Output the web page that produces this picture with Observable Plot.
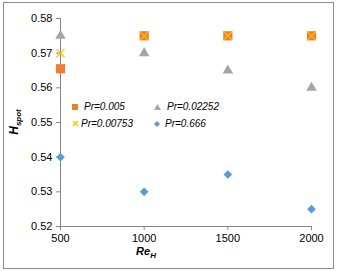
<!DOCTYPE html>
<html><head><meta charset="utf-8">
<script src="https://cdn.jsdelivr.net/npm/d3@7"></script>
<script src="https://cdn.jsdelivr.net/npm/@observablehq/plot@0.6"></script>
<style>
body{margin:0;background:#fff;font-family:"Liberation Sans",Arial,sans-serif;}
#wrap{position:relative;width:338px;height:271px;}
#border{position:absolute;left:3px;top:2px;width:329px;height:265px;border:1px solid #8c8c8c;box-sizing:content-box;pointer-events:none;}
#legend{position:absolute;left:72px;top:101px;font-size:10px;font-style:italic;color:#000;}
.li{position:absolute;white-space:nowrap;}
</style></head>
<body><div id="wrap"><div id="border"></div><div id="legend"></div></div>
<script>
const reH = [500, 1000, 1500, 2000];
const seriesNames = ["Pr=0.005", "Pr=0.00753", "Pr=0.02252", "Pr=0.666"];
const pr0005 = [0.5655, 0.575, 0.575, 0.575];
const pr00753 = [0.570, 0.575, 0.575, 0.575];
const pr02252 = [0.575, 0.570, 0.565, 0.560];
const pr666 = [0.540, 0.530, 0.535, 0.525];
const xTicks = [500, 1000, 1500, 2000];
const yTicks = [0.52, 0.53, 0.54, 0.55, 0.56, 0.57, 0.58];

const colors = ["#ED7D31", "#FFC000", "#A5A5A5", "#5B9BD5"];
const rows = (vals, s) => reH.map((x, i) => ({x, y: vals[i], s}));
const d005 = rows(pr0005, seriesNames[0]);
const d753 = rows(pr00753, seriesNames[1]);
const d2252 = rows(pr02252, seriesNames[2]);
const d666 = rows(pr666, seriesNames[3]);

const axisColor = "#868686";
const plot = Plot.plot({
  width: 338, height: 271,
  marginLeft: 60, marginRight: 27, marginTop: 18, marginBottom: 45,
  style: {fontFamily: "Liberation Sans, Arial, sans-serif", fontSize: "11px", color: "#000", background: "transparent"},
  x: {domain: [500, 2000], ticks: xTicks, tickFormat: d => String(d), label: null},
  y: {domain: [0.52, 0.58], ticks: yTicks, tickFormat: d => d.toFixed(2), label: null},
  marks: [
    Plot.axisX({ticks: xTicks, tickFormat: d => String(d), tickSize: 4, tickPadding: 4, stroke: axisColor, fill: "#000", fontSize: 11}),
    Plot.axisY({ticks: yTicks, tickFormat: d => d.toFixed(2), tickSize: 4, tickPadding: 4, stroke: axisColor, fill: "#000", fontSize: 11}),
    Plot.ruleX([500], {stroke: axisColor}),
    Plot.ruleY([0.52], {stroke: axisColor}),
    Plot.dot(d666, {x: "x", y: "y", symbol: "diamond2", r: 3.9, fill: colors[3], stroke: null}),
    Plot.dot(d2252, {x: "x", y: "y", symbol: "triangle", r: 3.9, fill: colors[2], stroke: null}),
    Plot.dot(d005, {x: "x", y: "y", symbol: "square", r: 5.2, fill: colors[0], stroke: null}),
    Plot.dot(d753, {x: "x", y: "y", symbol: "times", r: 3.8, stroke: colors[1], strokeWidth: 1.2, fill: null})
  ]
});
document.getElementById("wrap").insertBefore(plot, document.getElementById("border"));
plot.style.position = "absolute"; plot.style.left = "0"; plot.style.top = "0";

const svg = d3.select(plot);
// axis titles
const xt = svg.append("text").attr("x", 146).attr("y", 255).attr("text-anchor", "middle")
  .attr("font-size", 11).attr("font-weight", "bold").attr("font-style", "italic").attr("fill", "#000");
xt.append("tspan").text("Re");
xt.append("tspan").attr("font-size", 8).attr("dy", 3).text("H");
const yt = svg.append("text").attr("transform", "translate(18,122) rotate(-90)").attr("text-anchor", "middle")
  .attr("font-size", 12).attr("font-weight", "bold").attr("font-style", "italic").attr("fill", "#000");
yt.append("tspan").text("H");
yt.append("tspan").attr("font-size", 8).attr("dy", 3).text("spot");

// legend
const legendSyms = [
  '<svg width="6" height="6"><rect x="0" y="0" width="6" height="6" fill="#ED7D31"/></svg>',
  '<svg width="7" height="7"><path d="M1,1L6,6M6,1L1,6" stroke="#FFC000" stroke-width="1.2"/></svg>',
  '<svg width="7" height="6"><path d="M3.5,0L7,6L0,6Z" fill="#A5A5A5"/></svg>',
  '<svg width="6" height="6"><path d="M3,0L6,3L3,6L0,3Z" fill="#5B9BD5"/></svg>'
];
const legendPos = [[0, 0], [0, 17], [82, 0], [82, 17]];
const legendGap = [6, 2, 6, 5];
const lg = document.getElementById("legend");
seriesNames.forEach((n, i) => {
  const d = document.createElement("div");
  d.className = "li";
  d.style.left = legendPos[i][0] + "px"; d.style.top = legendPos[i][1] + "px";
  d.innerHTML = legendSyms[i].replace("<svg", '<svg style="vertical-align:0px;margin-right:' + legendGap[i] + 'px"') + n;
  lg.appendChild(d);
});
</script></body></html>
